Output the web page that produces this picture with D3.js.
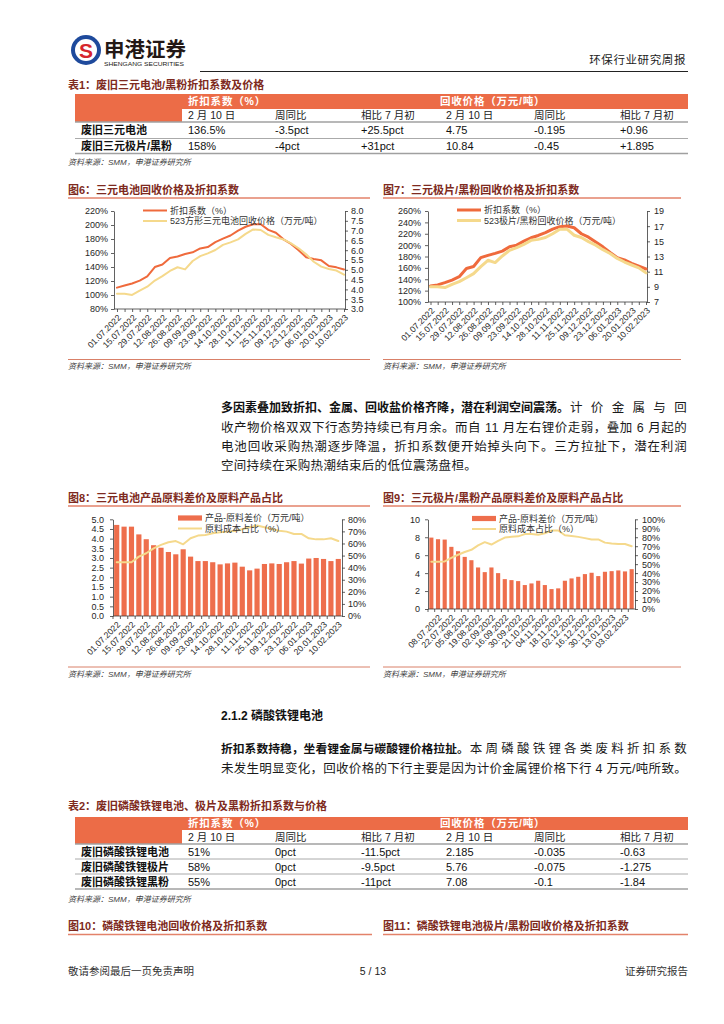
<!DOCTYPE html>
<html><head><meta charset="utf-8">
<script src="https://cdn.jsdelivr.net/npm/d3@7"></script>
<style>
body{margin:0;background:#fff;}
svg{display:block;}
text{font-family:"Liberation Sans","Noto Sans CJK SC",sans-serif;}
</style></head><body>
<svg id="page" width="724" height="1024"></svg>
<script>
// ---------------- DATA ----------------
const dates = ["01.07.2022","08.07.2022","15.07.2022","22.07.2022","29.07.2022","05.08.2022","12.08.2022","19.08.2022","26.08.2022","02.09.2022","09.09.2022","16.09.2022","23.09.2022","30.09.2022","14.10.2022","21.10.2022","28.10.2022","04.11.2022","11.11.2022","18.11.2022","25.11.2022","02.12.2022","09.12.2022","16.12.2022","23.12.2022","30.12.2022","06.01.2023","13.01.2023","20.01.2023","03.02.2023","10.02.2023"];
const evenLabels = ["01.07.2022","15.07.2022","29.07.2022","12.08.2022","26.08.2022","09.09.2022","23.09.2022","14.10.2022","28.10.2022","11.11.2022","25.11.2022","09.12.2022","23.12.2022","06.01.2023","20.01.2023","10.02.2023"];
const oddLabels = ["08.07.2022","22.07.2022","05.08.2022","19.08.2022","02.09.2022","16.09.2022","30.09.2022","21.10.2022","04.11.2022","18.11.2022","02.12.2022","16.12.2022","30.12.2022","13.01.2023","03.02.2023"];

// Fig 6: NCM battery
const fig6Discount = [110.5,113.5,116.5,120.5,126.5,140,143.5,153,155,158.5,161,166.5,168.5,175.5,180.5,185,192,197.5,201,201,193,189,179.5,173,164,154,151.5,149.5,141.5,139.5,136.5];
const fig6Price = [3.78,3.78,3.72,3.94,4.14,4.45,4.68,4.94,5.13,5.02,5.45,5.70,5.84,6.01,6.27,6.40,6.55,6.83,7.06,7.03,6.78,6.66,6.55,6.35,6.10,5.79,5.41,5.16,5.04,4.96,4.75];
// Fig 7: NCM electrode / black mass
const fig7Discount = [128,130,134,138.5,144.5,159,162.5,178,182,185.5,189.5,197,200,207,213,217,222,228,232.5,233.5,230.5,220,214,205.5,197,187,178,174,168,163,158];
const fig7Price = [9.02,9.02,8.9,9.33,9.68,10.2,10.74,11.66,12.5,12.2,13.07,13.8,14.16,14.6,15.13,15.26,15.5,16.0,16.6,16.6,15.8,15.5,14.96,14.5,13.9,13.4,12.75,12.27,11.88,11.5,10.84];
// Fig 8
const fig8Spread = [4.71,4.62,4.62,4.22,3.97,3.66,3.53,3.31,3.19,3.45,3.07,2.84,2.84,2.78,2.67,2.72,2.76,2.55,2.36,2.45,2.69,2.72,2.69,2.78,2.84,2.71,2.97,3.0,2.95,2.84,2.95];
const fig8Ratio = [44.4,44.4,44.4,49.1,51.9,56,58.8,61,62,59.3,64.3,66.5,67,68.4,69.2,69.8,70.3,71.7,73.4,74.8,73.4,72,70.6,69.8,67.9,67.9,64.3,63.4,63.4,64.3,62];
// Fig 9
const fig9Spread = [7.96,7.78,7.74,6.93,6.44,5.81,5.44,4.63,4.11,4.63,4.0,3.33,3.22,3.11,2.67,2.85,3.15,2.67,2.22,2.3,3.15,3.41,3.59,3.89,4.04,3.67,4.15,4.22,4.3,4.19,4.44];
const fig9Ratio = [52.6,52.6,53,57,60.5,63.5,66,71,74.5,71.9,76,79.6,80.5,81,83.5,83.5,82.8,84.5,87.5,87.5,82.2,81.5,80.4,79,77.4,77.6,74,73,72.6,72.4,70];

// axis ticks
const fig6LeftTicks = [80,100,120,140,160,180,200,220];
const fig6RightTicks = [3.0,3.5,4.0,4.5,5.0,5.5,6.0,6.5,7.0,7.5,8.0];
const fig7LeftTicks = [100,120,140,160,180,200,220,240,260];
const fig7RightTicks = [7,9,11,13,15,17,19];
const fig8LeftTicks = [0,0.5,1,1.5,2,2.5,3,3.5,4,4.5,5];
const fig8RightTicks = [0,10,20,30,40,50,60,70,80];
const fig9LeftTicks = [0,2,4,6,8,10];
const fig9RightTicks = [0,10,20,30,40,50,60,70,80,90,100];

// tables
const groupHeaders = ["折扣系数（%）","回收价格（万元/吨）"];
const subHeaders = ["2 月 10 日","周同比","相比 7 月初","2 月 10 日","周同比","相比 7 月初"];
const table1Labels = ["废旧三元电池","废旧三元极片/黑粉"];
const table1Values = [["136.5%","-3.5pct","+25.5pct","4.75","-0.195","+0.96"],["158%","-4pct","+31pct","10.84","-0.45","+1.895"]];
const table2Labels = ["废旧磷酸铁锂电池","废旧磷酸铁锂极片","废旧磷酸铁锂黑粉"];
const table2Values = [["51%","0pct","-11.5pct","2.185","-0.035","-0.63"],["58%","0pct","-9.5pct","5.76","-0.075","-1.275"],["55%","0pct","-11pct","7.08","-0.1","-1.84"]];

// ---------------- STYLE ----------------
const TITLE = "#7E2A20", UL = "#E3826A", ORANGE = "#EC6C47", LINE_O = "#EF6A3C", LINE_Y = "#F5D98C", BAR = "#EE6E4C";
const SOURCE = "资料来源：SMM，申港证券研究所";
const svg = d3.select("#page");
svg.append("rect").attr("width",724).attr("height",1024).attr("fill","#fff");

// ---------------- HEADER ----------------
const hdr = svg.append("g");
hdr.append("circle").attr("cx",86).attr("cy",50).attr("r",15).attr("fill","#1E4A9C");
hdr.append("circle").attr("cx",86).attr("cy",50).attr("r",11).attr("fill","#fff");
hdr.append("text").attr("x",86).attr("y",57.5).attr("text-anchor","middle").attr("font-size",21).attr("font-weight","bold").attr("fill","#D6262D").text("S");
hdr.append("text").attr("x",104).attr("y",57).attr("font-size",20.5).attr("font-weight","bold").attr("fill","#231815").text("申港证券");
hdr.append("text").attr("x",104).attr("y",66).attr("font-size",5.6).attr("textLength",80).attr("lengthAdjust","spacingAndGlyphs").attr("fill","#231815").text("SHENGANG SECURITIES");
hdr.append("line").attr("x1",200).attr("x2",688).attr("y1",71.5).attr("y2",71.5).attr("stroke","#222").attr("stroke-width",1);
hdr.append("text").attr("x",686).attr("y",64).attr("text-anchor","end").attr("font-size",11.5).attr("fill","#222").attr("letter-spacing",0.6).text("环保行业研究周报");

// ---------------- TABLES ----------------
const TL = 75, TR = 688, LABELW = 107;
const colX = [188,275,361,446,534,620];
const groupX = [188,440];
function mid(a,b){return (a+b)/2;}
function drawTable(o){
  const g = svg.append("g");
  g.append("text").attr("x",68).attr("y",o.titleY).attr("font-size",11).attr("font-weight","bold").attr("fill",TITLE).text(o.title);
  const e = o.edges;
  g.append("rect").attr("x",TL).attr("y",e[0]).attr("width",TR-TL).attr("height",e[1]-e[0]).attr("fill",ORANGE);
  g.append("rect").attr("x",TL).attr("y",e[1]).attr("width",LABELW).attr("height",e[2]-e[1]).attr("fill",ORANGE);
  groupHeaders.forEach((h,i)=>g.append("text").attr("x",groupX[i]).attr("y",mid(e[0],e[1])+3.8).attr("font-size",10.5).attr("font-weight","bold").attr("fill","#fff").attr("letter-spacing",0.8).text(h));
  subHeaders.forEach((h,i)=>g.append("text").attr("x",colX[i]).attr("y",mid(e[1],e[2])+3.8).attr("font-size",10.5).attr("fill","#222").text(h));
  for(let k=2;k<e.length;k++){
    g.append("line").attr("x1",TL).attr("x2",TR).attr("y1",e[k]).attr("y2",e[k]).attr("stroke","#A0A0A0").attr("stroke-width",(k===2||k===e.length-1)?1.3:0.9);
  }
  o.labels.forEach((lab,r)=>{
    const cy = mid(e[r+2],e[r+3]);
    g.append("text").attr("x",81).attr("y",cy+4).attr("font-size",11).attr("font-weight","bold").attr("fill","#111").text(lab);
    o.values[r].forEach((v,c)=>g.append("text").attr("x",colX[c]).attr("y",cy+4).attr("font-size",11).attr("fill","#111").text(v));
  });
  g.append("text").attr("x",68).attr("y",o.sourceY).attr("font-size",8).attr("font-style","italic").attr("fill","#444").text(SOURCE);
}
drawTable({title:"表1：废旧三元电池/黑粉折扣系数及价格",titleY:89,edges:[94,109,122,138.5,153.5],labels:table1Labels,values:table1Values,sourceY:165});
drawTable({title:"表2：废旧磷酸铁锂电池、极片及黑粉折扣系数与价格",titleY:810,edges:[817,830,844,859,874,889],labels:table2Labels,values:table2Values,sourceY:902});

// ---------------- CHARTS ----------------
function styleAxis(sel){
  sel.attr("font-family",'"Liberation Sans","Noto Sans CJK SC",sans-serif').attr("font-size",9);
  sel.selectAll("path,line").attr("stroke","#3a3a3a").attr("stroke-width",0.8);
  sel.selectAll("text").attr("fill","#262626");
}
function drawChart(o){
  const g = svg.append("g");
  g.append("text").attr("x",o.tx).attr("y",o.titleY).attr("font-size",11).attr("font-weight","bold").attr("fill",TITLE).text(o.title);
  g.append("line").attr("x1",o.tx).attr("x2",o.tx2).attr("y1",o.ulY).attr("y2",o.ulY).attr("stroke",UL).attr("stroke-width",1.4);
  const yL = d3.scaleLinear().domain(o.lDom).range([o.bottom,o.top]);
  const yR = d3.scaleLinear().domain(o.rDom).range([o.bottom,o.top]);
  let x, cx, step = 0;
  if (o.bars){
    x = d3.scaleBand().domain(dates).range([o.ax0,o.ax1]).paddingInner(o.pad).paddingOuter(o.pad/2);
    cx = d => x(d) + x.bandwidth()/2; step = x.step();
  } else {
    x = d3.scalePoint().domain(dates).range(o.pts);
    cx = d => x(d);
  }
  // bars
  if (o.bars){
    g.append("g").selectAll("rect").data(o.bars).join("rect")
      .attr("x",(d,i)=>x(dates[i])).attr("width",x.bandwidth())
      .attr("y",d=>yL(d)).attr("height",d=>yL(0)-yL(d)).attr("fill",BAR);
  }
  // axes
  const la = d3.axisLeft(yL).tickValues(o.lTicks).tickFormat(o.lFmt).tickSize(3).tickSizeOuter(0).tickPadding(o.lPad);
  g.append("g").attr("transform",`translate(${o.ax0},0)`).call(la).call(styleAxis);
  const ra = d3.axisRight(yR).tickValues(o.rTicks).tickFormat(o.rFmt).tickSize(3).tickSizeOuter(0).tickPadding(o.rPad);
  g.append("g").attr("transform",`translate(${o.ax1},0)`).call(ra).call(styleAxis);
  const xa = d3.axisBottom(x).tickSize(3).tickSizeOuter(0).tickFormat(d => o.labels.includes(d) ? d : "");
  const xg = g.append("g").attr("transform",`translate(0,${o.bottom})`).call(xa).call(styleAxis);
  xg.select(".domain").remove();
  xg.append("line").attr("x1",o.ax0).attr("x2",o.ax1).attr("y1",0).attr("y2",0).attr("stroke","#3a3a3a").attr("stroke-width",0.8);
  if (o.bars) xg.selectAll(".tick line").attr("x1",-step/2).attr("x2",-step/2);
  xg.selectAll(".tick text").attr("x",0).attr("y",0).attr("dy","0.35em")
    .attr("transform","translate(2,7) rotate(-45)").attr("text-anchor","end").attr("font-size",8.6);
  // lines
  const lineGen = (scale, vals) => d3.line().x((d,i)=>cx(dates[i])).y(d=>scale(d))(vals);
  o.series.forEach(s=>{
    g.append("path").attr("d",lineGen(s.axis==="L"?yL:yR, s.values)).attr("fill","none")
      .attr("stroke",s.color).attr("stroke-width",s.w).attr("stroke-linejoin","round").attr("stroke-linecap","round");
  });
  // legend
  o.legend.forEach((it,i)=>{
    const y = o.legY + i*10.5;
    if (it.type==="bar") g.append("rect").attr("x",o.legX).attr("y",y-2.6).attr("width",24).attr("height",5.2).attr("fill",BAR);
    else g.append("line").attr("x1",o.legX).attr("x2",o.legX+24).attr("y1",y).attr("y2",y).attr("stroke",it.color).attr("stroke-width",it.w);
    g.append("text").attr("x",o.legX+27).attr("y",y+3.2).attr("font-size",9).attr("fill","#333").text(it.name);
  });
  // bottom rule and source
  g.append("line").attr("x1",o.tx).attr("x2",o.tx2).attr("y1",o.botY).attr("y2",o.botY).attr("stroke","#D98068").attr("stroke-width",1);
  g.append("text").attr("x",o.tx).attr("y",o.botY+9.5).attr("font-size",8).attr("font-style","italic").attr("fill","#444").text(SOURCE);
}

const pct = d => d + "%";
drawChart({
  title:"图6：三元电池回收价格及折扣系数", tx:68, tx2:370, titleY:193.5, ulY:198,
  top:211, bottom:309, ax0:114, ax1:345, pts:[117,344],
  lDom:[80,220], lTicks:fig6LeftTicks, lFmt:pct, lPad:3,
  rDom:[3,8], rTicks:fig6RightTicks, rFmt:d3.format(".1f"), rPad:3,
  labels:evenLabels,
  series:[{values:fig6Discount,axis:"L",color:LINE_O,w:2},{values:fig6Price,axis:"R",color:LINE_Y,w:2}],
  legX:143, legY:210.5,
  legend:[{name:"折扣系数（%）",color:LINE_O,w:2},{name:"523方形三元电池回收价格（万元/吨）",color:LINE_Y,w:2}],
  botY:359.5
});
drawChart({
  title:"图7：三元极片/黑粉回收价格及折扣系数", tx:383, tx2:681, titleY:193.5, ulY:198,
  top:211, bottom:302, ax0:428, ax1:647, pts:[430.5,646],
  lDom:[100,260], lTicks:fig7LeftTicks, lFmt:pct, lPad:4,
  rDom:[7,19], rTicks:fig7RightTicks, rFmt:d3.format("d"), rPad:4,
  labels:evenLabels,
  series:[{values:fig7Discount,axis:"L",color:LINE_O,w:3},{values:fig7Price,axis:"R",color:LINE_Y,w:3}],
  legX:457, legY:210,
  legend:[{name:"折扣系数（%）",color:LINE_O,w:3},{name:"523极片/黑粉回收价格（万元/吨）",color:LINE_Y,w:3}],
  botY:359.5
});
drawChart({
  title:"图8：三元电池产品原料差价及原料产品占比", tx:68, tx2:370, titleY:502, ulY:506,
  top:519.3, bottom:616, ax0:113, ax1:342, pad:0.3,
  bars:fig8Spread,
  lDom:[0,5], lTicks:fig8LeftTicks, lFmt:d3.format(".1f"), lPad:6,
  rDom:[0,80], rTicks:fig8RightTicks, rFmt:pct, rPad:3,
  labels:evenLabels,
  series:[{values:fig8Ratio,axis:"R",color:LINE_Y,w:2}],
  legX:178, legY:518,
  legend:[{name:"产品-原料差价（万元/吨）",type:"bar"},{name:"原料成本占比（%）",color:LINE_Y,w:2}],
  botY:667
});
drawChart({
  title:"图9：三元极片/黑粉产品原料差价及原料产品占比", tx:383, tx2:681, titleY:502, ulY:506,
  top:519.3, bottom:609, ax0:428, ax1:635, pad:0.38,
  bars:fig9Spread,
  lDom:[0,10], lTicks:fig9LeftTicks, lFmt:d3.format("d"), lPad:5,
  rDom:[0,100], rTicks:fig9RightTicks, rFmt:pct, rPad:4,
  labels:oddLabels,
  series:[{values:fig9Ratio,axis:"R",color:LINE_Y,w:2}],
  legX:472, legY:518.5,
  legend:[{name:"产品-原料差价（万元/吨）",type:"bar"},{name:"原料成本占比（%）",color:LINE_Y,w:2}],
  botY:667
});

// ---------------- BODY TEXT ----------------
const BX0 = 221, BX1 = 687;
function bodyLine(y, boldPart, boldSize, normalPart, justify){
  let x = BX0;
  if (boldPart){
    const b = svg.append("text").attr("x",x).attr("y",y).attr("font-size",boldSize).attr("font-weight","bold").attr("fill","#111").text(boldPart);
    x += b.node().getComputedTextLength() + 1;
  }
  if (normalPart){
    const t = svg.append("text").attr("x",x).attr("y",y).attr("font-size",12.5).attr("fill","#1a1a1a").attr("letter-spacing",0.3).text(normalPart);
    if (justify) t.attr("textLength",BX1-x).attr("lengthAdjust","spacing");
  }
}
bodyLine(412,"多因素叠加致折扣、金属、回收盐价格齐降，潜在利润空间震荡。",12,"计价金属与回",true);
bodyLine(431.5,null,0,"收产物价格双双下行态势持续已有月余。而自 11 月左右锂价走弱，叠加 6 月起的",true);
bodyLine(451,null,0,"电池回收采购热潮逐步降温，折扣系数便开始掉头向下。三方拉扯下，潜在利润",true);
bodyLine(470,null,0,"空间持续在采购热潮结束后的低位震荡盘桓。",false);

svg.append("text").attr("x",BX0).attr("y",720).attr("font-size",12).attr("font-weight","bold").attr("fill","#111").text("2.1.2 磷酸铁锂电池");
bodyLine(753,"折扣系数持稳，坐看锂金属与碳酸锂价格拉扯。",11.8,"本周磷酸铁锂各类废料折扣系数",true);
bodyLine(773,null,0,"未发生明显变化，回收价格的下行主要是因为计价金属锂价格下行 4 万元/吨所致。",true);

// ---------------- NEXT FIGURE TITLES ----------------
svg.append("text").attr("x",68).attr("y",930).attr("font-size",11).attr("font-weight","bold").attr("fill",TITLE).text("图10：磷酸铁锂电池回收价格及折扣系数");
svg.append("line").attr("x1",68).attr("x2",372).attr("y1",934.5).attr("y2",934.5).attr("stroke",UL).attr("stroke-width",1.4);
svg.append("text").attr("x",383).attr("y",930).attr("font-size",11).attr("font-weight","bold").attr("fill",TITLE).text("图11：磷酸铁锂电池极片/黑粉回收价格及折扣系数");
svg.append("line").attr("x1",383).attr("x2",688).attr("y1",934.5).attr("y2",934.5).attr("stroke",UL).attr("stroke-width",1.4);

// ---------------- FOOTER ----------------
svg.append("text").attr("x",68).attr("y",975).attr("font-size",10.5).attr("fill","#333").text("敬请参阅最后一页免责声明");
svg.append("text").attr("x",373).attr("y",975).attr("text-anchor","middle").attr("font-size",10.5).attr("fill","#222").text("5 / 13");
svg.append("text").attr("x",688).attr("y",975).attr("text-anchor","end").attr("font-size",10.5).attr("fill","#333").text("证券研究报告");
</script>
</body></html>
